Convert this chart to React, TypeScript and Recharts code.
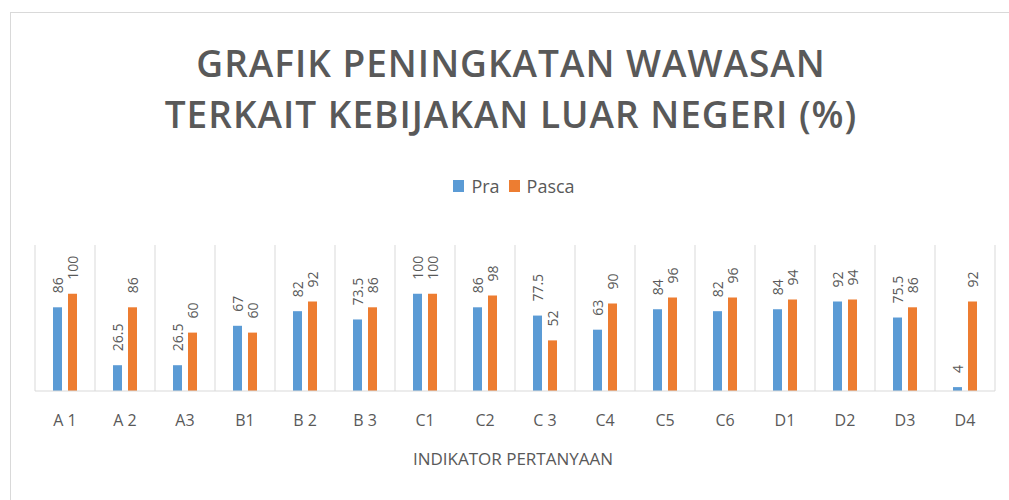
import React from 'react';
import { BarChart, Bar, XAxis, YAxis, CartesianGrid, LabelList } from 'recharts';

const categories = ['A1', 'A2', 'A3', 'B1', 'B2', 'B3', 'C1', 'C2', 'C3', 'C4', 'C5', 'C6', 'D1', 'D2', 'D3', 'D4'];
const tickLabels = ['A 1', 'A 2', 'A3', 'B1', 'B 2', 'B 3', 'C1', 'C2', 'C 3', 'C4', 'C5', 'C6', 'D1', 'D2', 'D3', 'D4'];
const praValues = [86, 26.5, 26.5, 67, 82, 73.5, 100, 86, 77.5, 63, 84, 82, 84, 92, 75.5, 4];
const pascaValues = [100, 86, 60, 60, 92, 86, 100, 98, 52, 90, 96, 96, 94, 94, 86, 92];
const seriesNames = ['Pra', 'Pasca'];
const seriesColors = ['#5B9BD5', '#ED7D31'];

const data = categories.map((c, i) => ({
  name: c,
  tick: tickLabels[i],
  Pra: praValues[i],
  Pasca: pascaValues[i],
}));

const TEXT = '#595959';
const GRID = '#d9d9d9';
const FONT = '"Open Sans", sans-serif';

const VerticalLabel = (props: any) => {
  const { x, y, width, value } = props;
  const cx = x + width / 2;
  const ty = y - 14;
  return (
    <text
      x={cx}
      y={ty}
      transform={`rotate(-90, ${cx}, ${ty})`}
      textAnchor="start"
      dominantBaseline="central"
      fill={TEXT}
      fontSize={14}
      fontFamily={FONT}
    >
      {value}
    </text>
  );
};

export default function App() {
  return (
    <div style={{ position: 'absolute', left: 0, top: 0, width: 1009, height: 500, background: '#fff', overflow: 'hidden', fontFamily: FONT }}>
      <div style={{ position: 'absolute', left: 10, top: 12, width: 1100, height: 600, border: '1px solid #d9d9d9' }} />
      <div style={{ position: 'absolute', left: 0, width: 1022, top: 37, textAlign: 'center', color: TEXT, fontSize: 37, fontWeight: 600, lineHeight: '51px', letterSpacing: 1 }}>
        GRAFIK PENINGKATAN WAWASAN
        <br />
        TERKAIT KEBIJAKAN LUAR NEGERI (%)
      </div>
      {/* legend */}
      <div style={{ position: 'absolute', left: 0, width: 1028, top: 174, display: 'flex', justifyContent: 'center', alignItems: 'center', color: TEXT, fontSize: 18 }}>
        {seriesNames.map((n, i) => (
          <span key={n} style={{ display: 'flex', alignItems: 'center', marginRight: i === 0 ? 9 : 0 }}>
            <span style={{ display: 'inline-block', width: 11, height: 12, background: seriesColors[i], marginRight: 7 }} />
            {n}
          </span>
        ))}
      </div>
      <div style={{ position: 'absolute', left: 0, width: 1026, top: 447, textAlign: 'center', color: TEXT, fontSize: 17 }}>
        INDIKATOR PERTANYAAN
      </div>
      <BarChart
        width={1009}
        height={500}
        data={data}
        margin={{ top: 245, right: 14, bottom: 79, left: 35 }}
        barSize={9}
        barGap={6}
      >
        <CartesianGrid
          horizontal={false}
          stroke={GRID}
          verticalCoordinatesGenerator={({ offset }: any) =>
            categories.map((_, i) => offset.left + (i * offset.width) / categories.length).concat(offset.left + offset.width)
          }
        />
        <XAxis
          dataKey="tick"
          axisLine={{ stroke: GRID }}
          tickLine={false}
          tick={{ fill: TEXT, fontSize: 16, fontFamily: FONT }}
          tickMargin={18}
          interval={0}
        />
        <YAxis hide domain={[0, 150]} />
        <Bar dataKey="Pra" fill={seriesColors[0]} isAnimationActive={false}>
          <LabelList dataKey="Pra" content={VerticalLabel} />
        </Bar>
        <Bar dataKey="Pasca" fill={seriesColors[1]} isAnimationActive={false}>
          <LabelList dataKey="Pasca" content={VerticalLabel} />
        </Bar>
      </BarChart>
    </div>
  );
}
